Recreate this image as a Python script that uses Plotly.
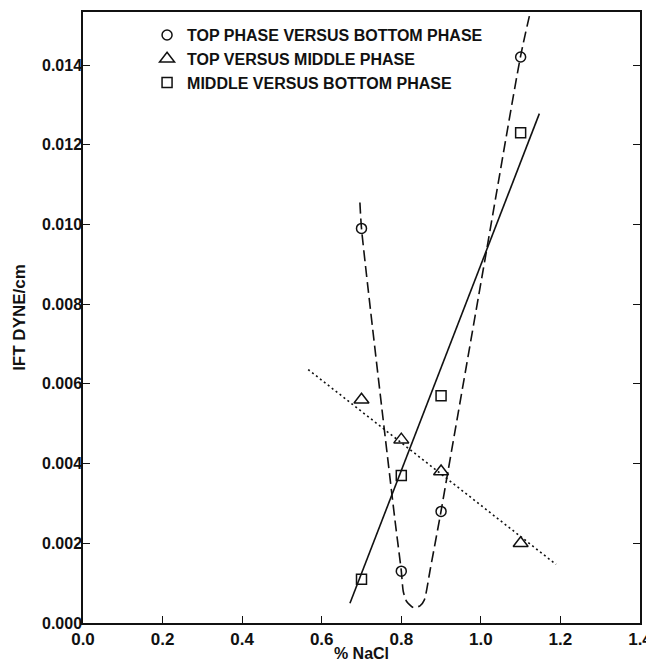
import plotly.graph_objects as go

# ---- data ----
nacl = [0.7, 0.8, 0.9, 1.1]
top_vs_bottom = [0.0099, 0.0013, 0.0028, 0.0142]
top_vs_middle = [0.0056, 0.0046, 0.0038, 0.0020]
middle_vs_bottom = [0.0011, 0.0037, 0.0057, 0.0123]

# hand-drawn dashed curve (top vs bottom)
curve_x = [0.696, 0.700, 0.784, 0.800, 0.805, 0.8135, 0.830, 0.847, 0.858,
           0.8725, 0.900, 0.918, 1.010, 1.100, 1.127]
curve_y = [0.01055, 0.00990, 0.00259, 0.00131, 0.00079, 0.00054, 0.00039,
           0.00043, 0.00058, 0.00133, 0.00281, 0.00384, 0.00910,
           0.01423, 0.01545]

# solid fit line (middle vs bottom)
solid_x = [0.671, 1.147]
solid_y = [0.000495, 0.01278]

# dotted fit line (top vs middle)
dot_x = [0.566, 1.189]
dot_y = [0.00636, 0.00147]

labels = ["TOP PHASE VERSUS BOTTOM PHASE",
          "TOP VERSUS MIDDLE PHASE",
          "MIDDLE VERSUS BOTTOM PHASE"]

FONT = "Liberation Sans, Arial, sans-serif"
BLACK = "#111111"

fig = go.Figure()

fig.add_trace(go.Scatter(x=curve_x, y=curve_y, mode="lines", showlegend=False,
                         line=dict(color=BLACK, width=1.6, dash="11px,5px",
                                   shape="spline", smoothing=0.6),
                         hoverinfo="skip"))
fig.add_trace(go.Scatter(x=solid_x, y=solid_y, mode="lines", showlegend=False,
                         line=dict(color=BLACK, width=1.6), hoverinfo="skip"))
fig.add_trace(go.Scatter(x=dot_x, y=dot_y, mode="lines", showlegend=False,
                         line=dict(color=BLACK, width=1.6, dash="2px,3px"),
                         hoverinfo="skip"))

fig.add_trace(go.Scatter(x=nacl, y=top_vs_bottom, mode="markers", name=labels[0],
                         marker=dict(symbol="circle-open", size=10, color=BLACK,
                                     line=dict(width=1.5, color=BLACK))))
fig.add_trace(go.Scatter(x=nacl, y=top_vs_middle, mode="markers", name=labels[1],
                         marker=dict(symbol="triangle-up-open", size=13, color=BLACK,
                                     line=dict(width=1.5, color=BLACK))))
fig.add_trace(go.Scatter(x=nacl, y=middle_vs_bottom, mode="markers", name=labels[2],
                         marker=dict(symbol="square-open", size=10, color=BLACK,
                                     line=dict(width=1.5, color=BLACK))))

# the page places the figure 8px from the window's top-left corner
fig.update_layout(
    width=646, height=658,
    margin=dict(l=75, r=14, t=4, b=43),
    paper_bgcolor="white", plot_bgcolor="white",
    font=dict(family=FONT, color=BLACK, size=16),
    showlegend=True,
    legend=dict(x=0.115, y=0.99, xanchor="left", yanchor="top",
                bgcolor="rgba(0,0,0,0)", borderwidth=0,
                font=dict(family=FONT, size=16, color=BLACK, weight="bold"),
                itemwidth=30, tracegroupgap=0),
    xaxis=dict(range=[0, 1.4], dtick=0.2, tickformat=".1f",
               showgrid=False, zeroline=False, automargin=False,
               showline=True, linecolor=BLACK, linewidth=1.5, mirror=True,
               ticks="inside", ticklen=7, tickwidth=1.2, tickcolor=BLACK,
               tickfont=dict(family=FONT, size=17, weight="bold"),
               title=dict(text="% NaCl", standoff=0,
                          font=dict(family=FONT, size=16, weight="bold"))),
    yaxis=dict(range=[0, 0.01533], dtick=0.002, tickformat=".3f",
               showgrid=False, zeroline=False, automargin=False,
               showline=True, linecolor=BLACK, linewidth=1.5, mirror="ticks",
               ticks="inside", ticklen=7, tickwidth=1.2, tickcolor=BLACK,
               ticklabelstandoff=-4,
               tickfont=dict(family=FONT, size=16, weight="bold"),
               title=dict(text="IFT DYNE/cm", standoff=12,
                          font=dict(family=FONT, size=17, weight="bold"))),
)

fig.write_html("out.html")
